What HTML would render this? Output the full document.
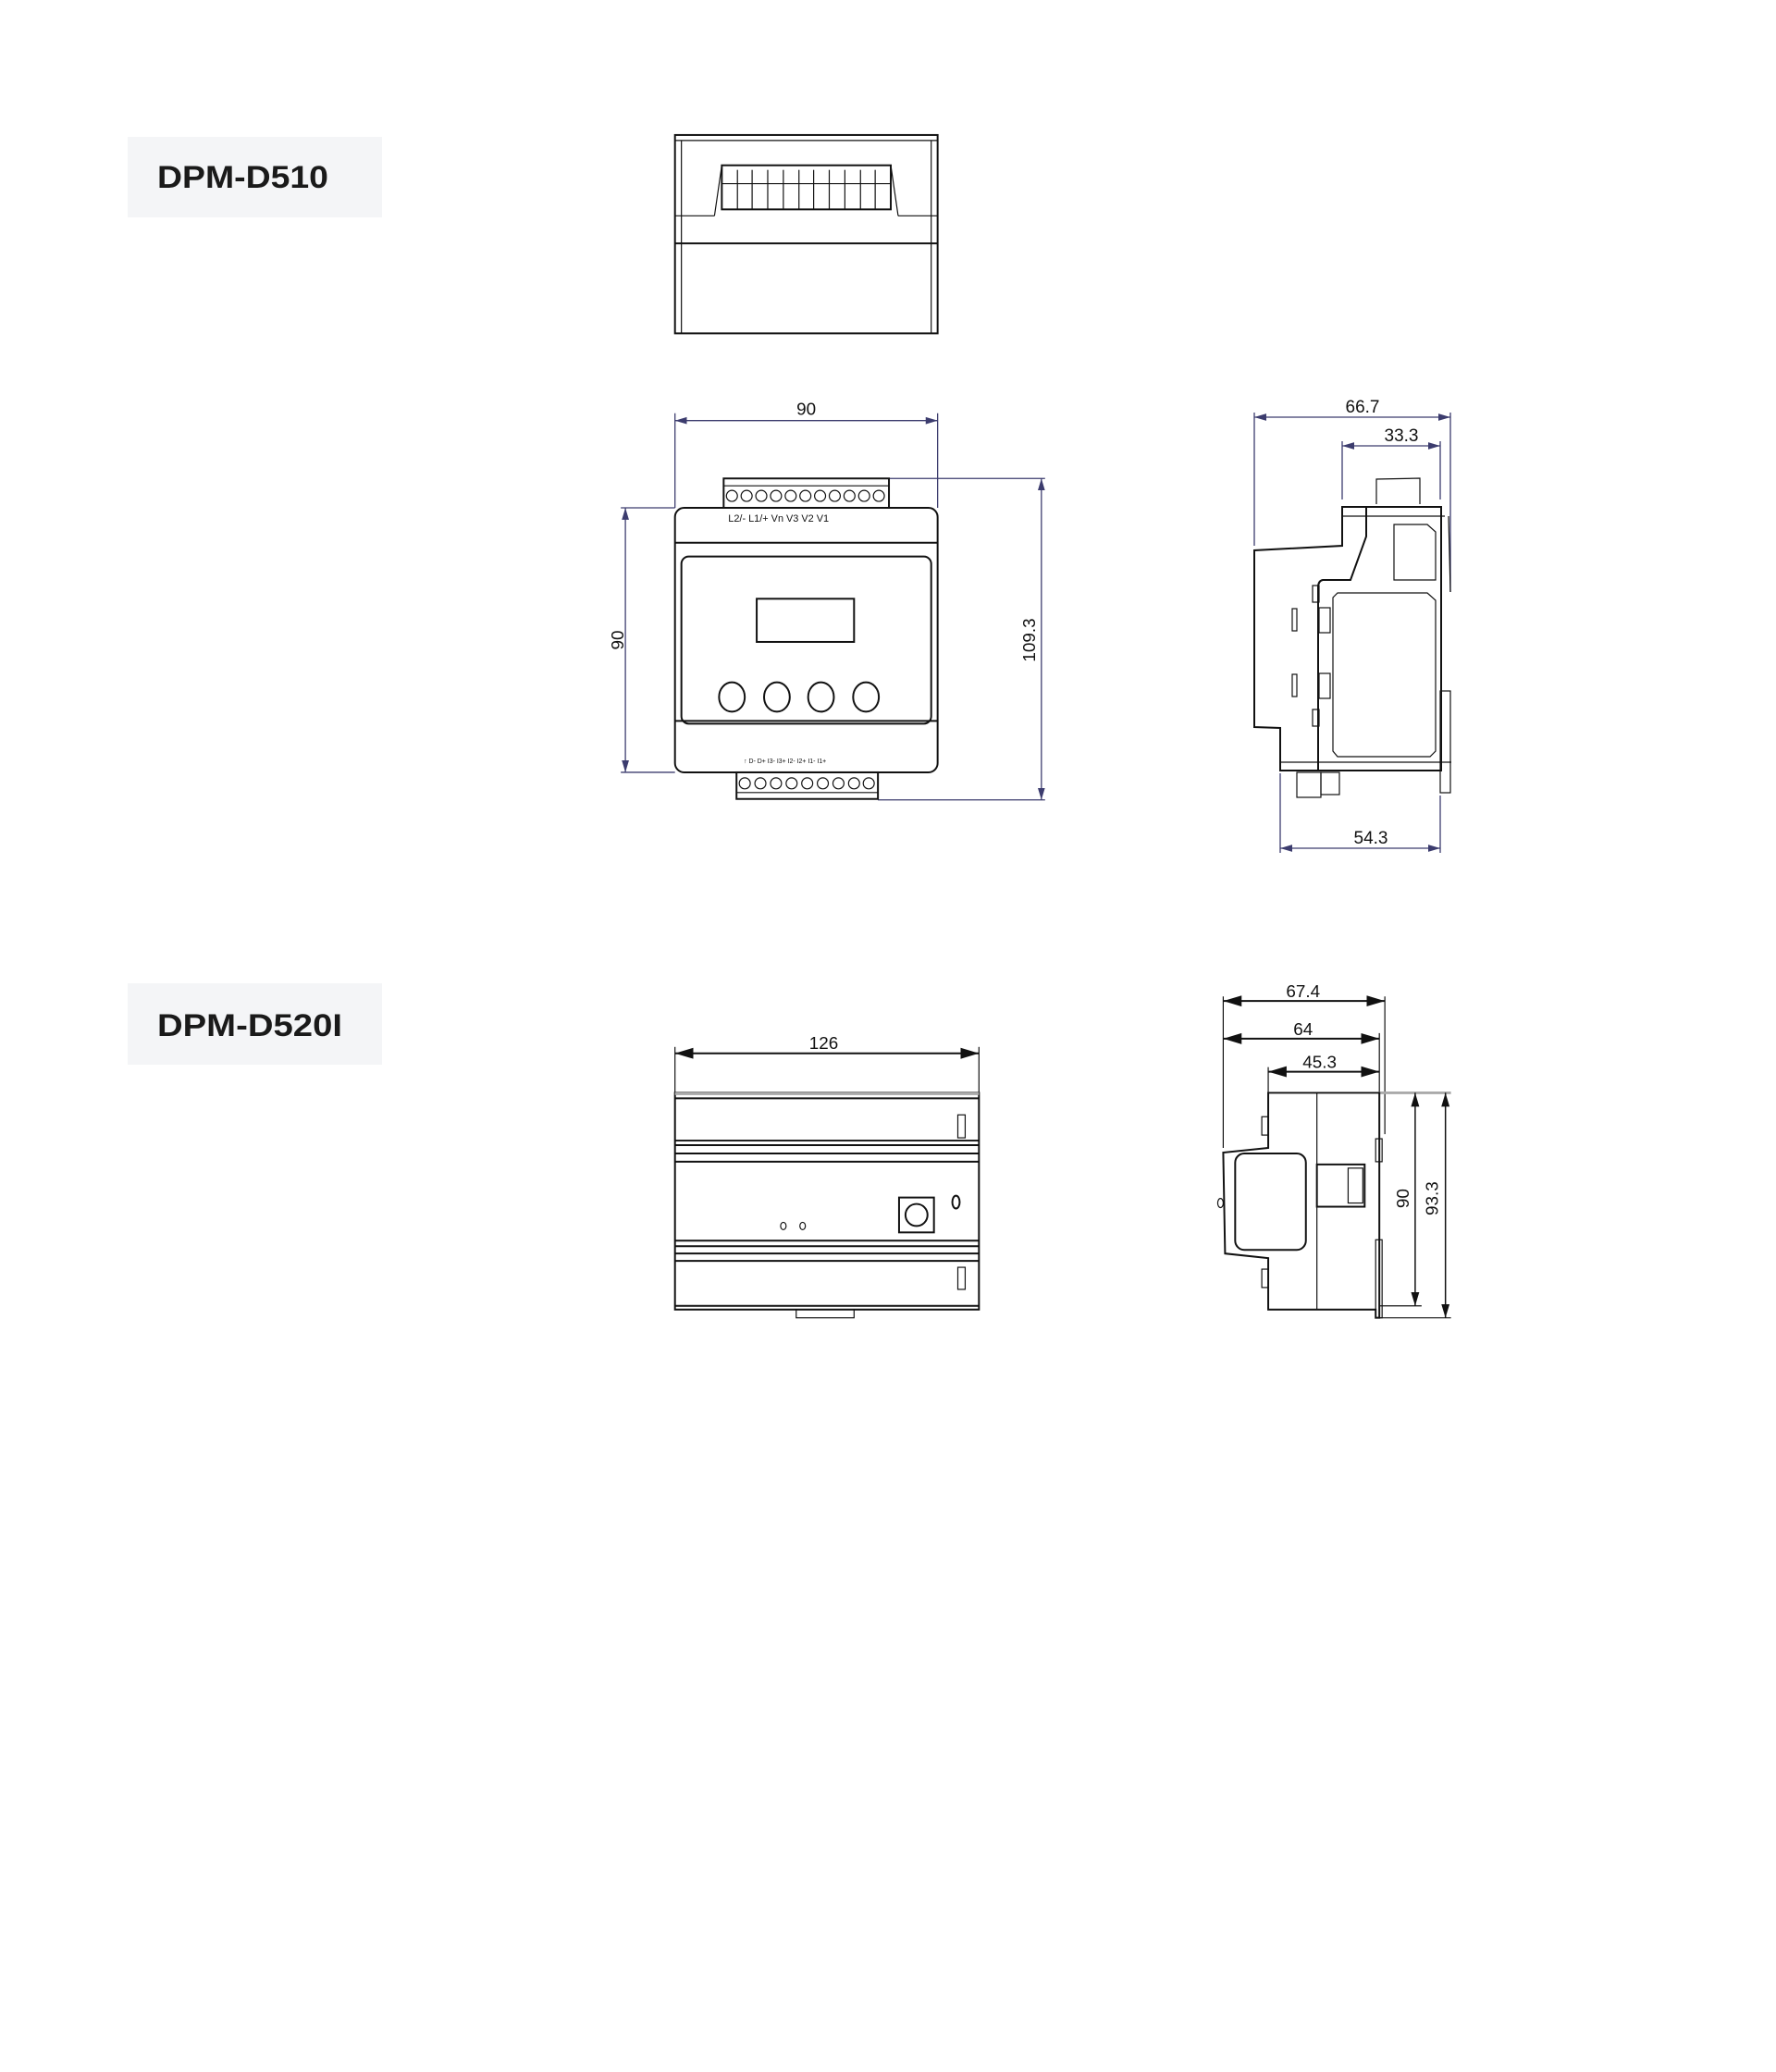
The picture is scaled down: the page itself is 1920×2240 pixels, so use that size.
<!DOCTYPE html>
<html><head><meta charset="utf-8"><style>
html,body{margin:0;padding:0;background:#fff}
svg{display:block}
.d{stroke:#3c3c6e;stroke-width:1.3;fill:none}
.o{stroke:#111;stroke-width:2;fill:none}
.t{stroke:#111;stroke-width:1.2;fill:none}
.tx{font-family:"Liberation Sans",sans-serif;font-size:19px;fill:#111}
</style></head><body>
<svg width="1920" height="2240" viewBox="0 0 1920 2240" xmlns="http://www.w3.org/2000/svg">
<defs>
<marker id="a" markerWidth="10" markerHeight="8" refX="10" refY="4" orient="auto-start-reverse"><path d="M0,1 L10,4 L0,7 z" fill="#3c3c6e"/></marker>
<marker id="b" markerWidth="10" markerHeight="8" refX="10" refY="4" orient="auto-start-reverse"><path d="M0,1 L10,4 L0,7 z" fill="#111"/></marker>
</defs>
<!-- labels -->
<rect x="138" y="148" width="275" height="87" fill="#f4f5f7"/>
<text x="170" y="203" font-family="Liberation Sans, sans-serif" font-size="34" font-weight="bold" fill="#1a1a1a" textLength="185" lengthAdjust="spacingAndGlyphs">DPM-D510</text>
<rect x="138" y="1063" width="275" height="88" fill="#f4f5f7"/>
<text x="170" y="1120" font-family="Liberation Sans, sans-serif" font-size="34" font-weight="bold" fill="#1a1a1a" textLength="200" lengthAdjust="spacingAndGlyphs">DPM-D520I</text>

<g transform="scale(0.9928)">
<!-- TOP VIEW -->
<rect x="735" y="147" width="286" height="216" class="o"/>
<line x1="735" y1="153" x2="1021" y2="153" class="t"/>
<line x1="742" y1="153" x2="742" y2="363" class="t"/>
<line x1="1014" y1="153" x2="1014" y2="363" class="t"/>
<line x1="735" y1="265" x2="1021" y2="265" class="o"/>
<line x1="735" y1="235" x2="778" y2="235" class="t"/>
<line x1="978" y1="235" x2="1021" y2="235" class="t"/>
<path d="M778,235 L786,180 L970,180 L978,235" class="t"/>
<rect x="786" y="180" width="184" height="48" class="o"/>
<line x1="786" y1="200" x2="970" y2="200" class="t"/>
<g class="t">
<line x1="803" y1="185" x2="803" y2="228"/><line x1="819" y1="185" x2="819" y2="228"/><line x1="836" y1="185" x2="836" y2="228"/><line x1="853" y1="185" x2="853" y2="228"/><line x1="870" y1="185" x2="870" y2="228"/><line x1="886" y1="185" x2="886" y2="228"/><line x1="903" y1="185" x2="903" y2="228"/><line x1="920" y1="185" x2="920" y2="228"/><line x1="937" y1="185" x2="937" y2="228"/><line x1="953" y1="185" x2="953" y2="228"/>
</g>

<!-- FRONT VIEW -->
<line x1="735" y1="458" x2="1021" y2="458" class="d" marker-start="url(#a)" marker-end="url(#a)"/>
<line x1="735" y1="450" x2="735" y2="553" class="d"/>
<line x1="1021" y1="450" x2="1021" y2="553" class="d"/>
<text x="878" y="452" class="tx" text-anchor="middle">90</text>
<line x1="681" y1="553" x2="681" y2="841" class="d" marker-start="url(#a)" marker-end="url(#a)"/>
<line x1="676" y1="553" x2="735" y2="553" class="d"/>
<line x1="676" y1="841" x2="735" y2="841" class="d"/>
<text transform="translate(679,697) rotate(-90)" class="tx" text-anchor="middle">90</text>
<line x1="1134" y1="521" x2="1134" y2="871" class="d" marker-start="url(#a)" marker-end="url(#a)"/>
<line x1="968" y1="521" x2="1138" y2="521" class="d"/>
<line x1="956" y1="871" x2="1138" y2="871" class="d"/>
<text transform="translate(1127,697) rotate(-90)" class="tx" text-anchor="middle">109.3</text>

<rect x="735" y="553" width="286" height="288" rx="10" class="o"/>
<line x1="735" y1="591" x2="1021" y2="591" class="o"/>
<line x1="735" y1="785" x2="1021" y2="785" class="o"/>
<rect x="742" y="606" width="272" height="182" rx="8" class="o"/>
<rect x="824" y="652" width="106" height="47" class="o"/>
<ellipse cx="797" cy="759" rx="14" ry="16" class="o"/>
<ellipse cx="846" cy="759" rx="14" ry="16" class="o"/>
<ellipse cx="894" cy="759" rx="14" ry="16" class="o"/>
<ellipse cx="943" cy="759" rx="14" ry="16" class="o"/>
<rect x="788" y="521" width="180" height="32" class="o"/>
<g class="t">
<circle cx="797" cy="540" r="6"/><circle cx="813" cy="540" r="6"/><circle cx="829" cy="540" r="6"/><circle cx="845" cy="540" r="6"/><circle cx="861" cy="540" r="6"/><circle cx="877" cy="540" r="6"/><circle cx="893" cy="540" r="6"/><circle cx="909" cy="540" r="6"/><circle cx="925" cy="540" r="6"/><circle cx="941" cy="540" r="6"/><circle cx="957" cy="540" r="6"/>
<line x1="788" y1="529" x2="968" y2="529"/>
</g>
<text x="793" y="568" font-family="Liberation Sans, sans-serif" font-size="11" fill="#111">L2/-  L1/+  Vn     V3     V2     V1</text>
<text x="810" y="831" font-family="Liberation Sans, sans-serif" font-size="7" fill="#111">↑  D-  D+  I3-  I3+  I2-  I2+  I1-  I1+</text>
<rect x="802" y="841" width="154" height="29" class="o"/>
<g class="t">
<circle cx="811" cy="853" r="6"/><circle cx="828" cy="853" r="6"/><circle cx="845" cy="853" r="6"/><circle cx="862" cy="853" r="6"/><circle cx="879" cy="853" r="6"/><circle cx="896" cy="853" r="6"/><circle cx="913" cy="853" r="6"/><circle cx="930" cy="853" r="6"/><circle cx="946" cy="853" r="6"/>
<line x1="802" y1="863" x2="956" y2="863"/>
</g>

<!-- DPM-D520I FRONT -->
<line x1="735" y1="1147" x2="1066" y2="1147" stroke="#111" stroke-width="2" marker-start="url(#b)" marker-end="url(#b)"/>
<line x1="735" y1="1140" x2="735" y2="1190" class="t"/>
<line x1="1066" y1="1140" x2="1066" y2="1190" class="t"/>
<text x="897" y="1142" class="tx" text-anchor="middle">126</text>
<rect x="735" y="1190" width="331" height="236" class="o"/>
<line x1="735" y1="1191" x2="1066" y2="1191" stroke="#aaa" stroke-width="3"/>
<g class="o">
<line x1="735" y1="1196" x2="1066" y2="1196"/>
<line x1="735" y1="1242" x2="1066" y2="1242"/>
<line x1="735" y1="1247" x2="1066" y2="1247"/>
<line x1="735" y1="1256" x2="1066" y2="1256"/>
<line x1="735" y1="1265" x2="1066" y2="1265"/>
<line x1="735" y1="1351" x2="1066" y2="1351"/>
<line x1="735" y1="1357" x2="1066" y2="1357"/>
<line x1="735" y1="1365" x2="1066" y2="1365"/>
<line x1="735" y1="1373" x2="1066" y2="1373"/>
<line x1="735" y1="1422" x2="1066" y2="1422"/>
</g>
<rect x="1043" y="1214" width="8" height="25" class="t"/>
<rect x="1043" y="1380" width="8" height="24" class="t"/>
<rect x="979" y="1304" width="38" height="38" class="o"/>
<circle cx="998" cy="1323" r="12" class="o"/>
<ellipse cx="1041" cy="1309" rx="4" ry="7" class="o"/>
<ellipse cx="853" cy="1335" rx="3" ry="4" class="t"/>
<ellipse cx="874" cy="1335" rx="3" ry="4" class="t"/>
<rect x="867" y="1426" width="63" height="9" class="t"/>

<!-- DPM-D520I SIDE -->
<line x1="1332" y1="1090" x2="1508" y2="1090" stroke="#111" stroke-width="2" marker-start="url(#b)" marker-end="url(#b)"/>
<text x="1419" y="1086" class="tx" text-anchor="middle">67.4</text>
<line x1="1332" y1="1131" x2="1502" y2="1131" stroke="#111" stroke-width="2" marker-start="url(#b)" marker-end="url(#b)"/>
<text x="1419" y="1127" class="tx" text-anchor="middle">64</text>
<line x1="1381" y1="1167" x2="1502" y2="1167" stroke="#111" stroke-width="2" marker-start="url(#b)" marker-end="url(#b)"/>
<text x="1437" y="1163" class="tx" text-anchor="middle">45.3</text>
<g class="t">
<line x1="1332" y1="1085" x2="1332" y2="1250"/><line x1="1508" y1="1085" x2="1508" y2="1235"/>
<line x1="1502" y1="1125" x2="1502" y2="1190"/><line x1="1381" y1="1162" x2="1381" y2="1190"/>
<line x1="1502" y1="1190" x2="1580" y2="1190" stroke="#aaa" stroke-width="3"/>
<line x1="1502" y1="1422" x2="1548" y2="1422"/>
<line x1="1502" y1="1435" x2="1580" y2="1435"/>
</g>
<line x1="1574" y1="1190" x2="1574" y2="1435" stroke="#111" stroke-width="1.5" marker-start="url(#b)" marker-end="url(#b)"/>
<line x1="1541" y1="1190" x2="1541" y2="1422" stroke="#111" stroke-width="1.5" marker-start="url(#b)" marker-end="url(#b)"/>
<text transform="translate(1566,1305) rotate(-90)" class="tx" text-anchor="middle">93.3</text>
<text transform="translate(1534,1305) rotate(-90)" class="tx" text-anchor="middle">90</text>
<path d="M1381,1190 L1502,1190 L1502,1435 L1498,1435 L1498,1426 L1381,1426 L1381,1370 L1334,1365 L1332,1255 L1381,1250 Z" class="o"/>
<line x1="1434" y1="1190" x2="1434" y2="1426" class="t"/>
<rect x="1345" y="1256" width="77" height="105" rx="10" class="o"/>
<rect x="1434" y="1268" width="52" height="46" class="o"/>
<rect x="1468" y="1272" width="16" height="38" class="t"/>
<rect x="1374" y="1216" width="7" height="20" class="t"/>
<rect x="1374" y="1382" width="7" height="20" class="t"/>
<ellipse cx="1329" cy="1310" rx="3" ry="5" class="t"/>
<rect x="1498" y="1240" width="7" height="25" class="t"/>
<rect x="1498" y="1350" width="7" height="85" class="t"/>
</g>

<!-- SIDE VIEW 1 -->
<line x1="1356" y1="451" x2="1568" y2="451" class="d" marker-start="url(#a)" marker-end="url(#a)"/>
<text x="1473" y="446" class="tx" text-anchor="middle">66.7</text>
<line x1="1451" y1="482" x2="1557" y2="482" class="d" marker-start="url(#a)" marker-end="url(#a)"/>
<text x="1515" y="477" class="tx" text-anchor="middle">33.3</text>
<line x1="1384" y1="917" x2="1557" y2="917" class="d" marker-start="url(#a)" marker-end="url(#a)"/>
<text x="1482" y="912" class="tx" text-anchor="middle">54.3</text>
<g class="d">
<line x1="1356" y1="446" x2="1356" y2="590"/><line x1="1568" y1="446" x2="1568" y2="640"/>
<line x1="1451" y1="477" x2="1451" y2="540"/><line x1="1557" y1="477" x2="1557" y2="540"/>
<line x1="1384" y1="836" x2="1384" y2="922"/><line x1="1557" y1="860" x2="1557" y2="922"/>
</g>
<path d="M1488,545 L1488,518 L1535,517 L1535,545" class="t"/>
<path d="M1451,548 L1558,548 L1558,833 L1384,833 L1384,787 L1356,786 L1356,595 L1451,590 Z" class="o"/>
<line x1="1451" y1="558" x2="1562" y2="558" class="t"/>
<path d="M1477,548 L1477,580 L1460,627 L1430,627 Q1425,628 1425,635 L1425,833" class="o"/>
<line x1="1384" y1="824" x2="1569" y2="824" class="t"/>
<path d="M1507,567 L1543,567 L1552,575 L1552,627 L1507,627 Z" class="t"/>
<path d="M1446,641 L1543,641 L1552,649 L1552,812 L1546,818 L1446,818 L1441,812 L1441,646 Z" class="t"/>
<line x1="1566" y1="558" x2="1568" y2="640" class="t"/>
<rect x="1397" y="658" width="5" height="24" class="t"/>
<rect x="1397" y="729" width="5" height="24" class="t"/>
<rect x="1419" y="633" width="7" height="18" class="t"/>
<rect x="1419" y="767" width="7" height="18" class="t"/>
<rect x="1426" y="657" width="12" height="27" class="t"/>
<rect x="1426" y="728" width="12" height="27" class="t"/>
<rect x="1402" y="835" width="26" height="27" class="t"/>
<rect x="1428" y="835" width="20" height="24" class="t"/>
<rect x="1557" y="747" width="11" height="110" class="t"/>
</svg>
</body></html>
